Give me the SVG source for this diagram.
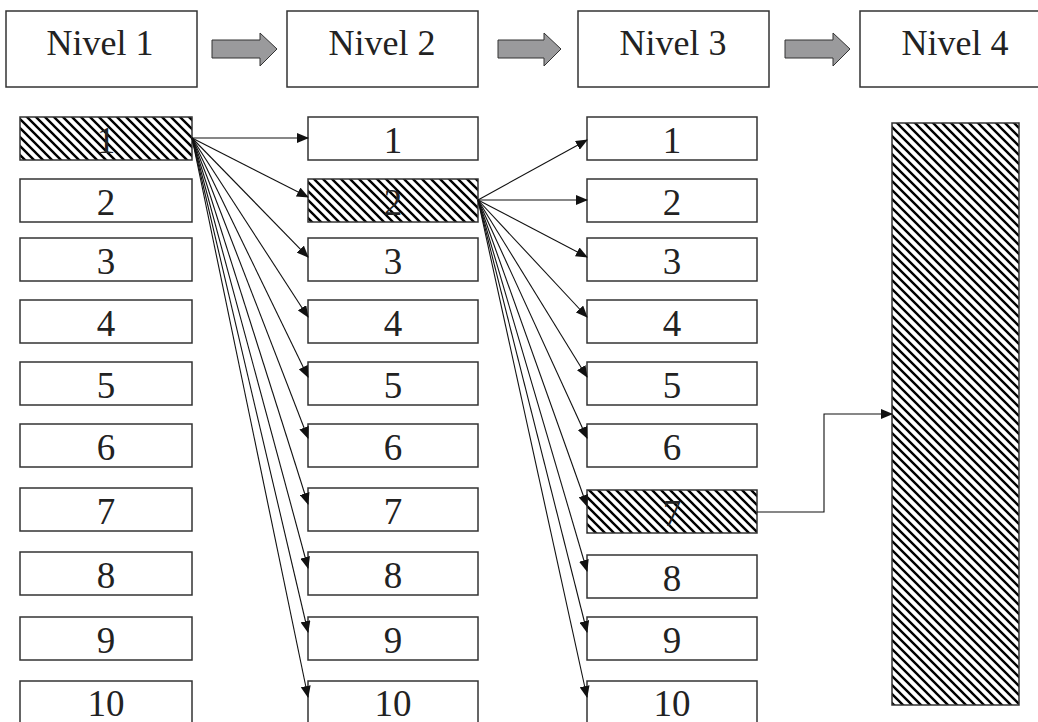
<svg xmlns="http://www.w3.org/2000/svg" width="1038" height="722" viewBox="0 0 1038 722">
<defs>
<pattern id="hatch" width="9" height="9" patternUnits="userSpaceOnUse">
<path d="M-2,-2 L11,11 M-2,7 L2,11 M7,-2 L11,2" stroke="#000" stroke-width="2.4"/>
</pattern>
<marker id="ah" markerWidth="12" markerHeight="10" refX="11" refY="5" orient="auto" markerUnits="userSpaceOnUse">
<path d="M0,0 L12,5 L0,10 Z" fill="#111"/>
</marker>
<style>
.box{fill:#fff;stroke:#333;stroke-width:1.5}
.hb{fill:url(#hatch);stroke:#333;stroke-width:1.5}
.t{fill:#222;text-anchor:middle}
.hd{font-size:36px}
.n{font-size:37px}
.c{fill:none;stroke:#111;stroke-width:1.1}
.ga{fill:#9a9a9c;stroke:#333;stroke-width:1}
</style>
</defs>
<rect width="1038" height="722" fill="#fff"/>

<g font-family="Liberation Serif, Times New Roman, Tinos, Noto Serif, DejaVu Serif, serif">
<g id="header">
<g id="nivel1"><rect class="box" x="6" y="11" width="191" height="76"/><text class="t hd" x="100" y="55">Nivel 1</text></g>
<g id="nivel2"><rect class="box" x="287" y="11" width="191" height="76"/><text class="t hd" x="382" y="55">Nivel 2</text></g>
<g id="nivel3"><rect class="box" x="578" y="11" width="191" height="76"/><text class="t hd" x="673" y="55">Nivel 3</text></g>
<g id="nivel4"><rect class="box" x="860" y="11" width="191" height="76"/><text class="t hd" x="955" y="55">Nivel 4</text></g>
<g id="flow1"><path class="ga" d="M212,40 H260 V33 L277,49 L260,66 V58 H212 Z"/></g>
<g id="flow2"><path class="ga" d="M498,40 H544 V33 L561,49 L544,66 V58 H498 Z"/></g>
<g id="flow3"><path class="ga" d="M785,40 H833 V33 L850,49 L833,66 V58 H785 Z"/></g>
</g>

<g id="col1">
<g id="c1-1"><rect class="hb" x="20" y="117" width="172" height="43"/><text class="t n" x="106" y="153">1</text></g>
<g id="c1-2"><rect class="box" x="20" y="179" width="172" height="43"/><text class="t n" x="106" y="215">2</text></g>
<g id="c1-3"><rect class="box" x="20" y="238" width="172" height="43"/><text class="t n" x="106" y="274">3</text></g>
<g id="c1-4"><rect class="box" x="20" y="300" width="172" height="43"/><text class="t n" x="106" y="336">4</text></g>
<g id="c1-5"><rect class="box" x="20" y="362" width="172" height="43"/><text class="t n" x="106" y="398">5</text></g>
<g id="c1-6"><rect class="box" x="20" y="424" width="172" height="43"/><text class="t n" x="106" y="460">6</text></g>
<g id="c1-7"><rect class="box" x="20" y="488" width="172" height="43"/><text class="t n" x="106" y="524">7</text></g>
<g id="c1-8"><rect class="box" x="20" y="552" width="172" height="43"/><text class="t n" x="106" y="588">8</text></g>
<g id="c1-9"><rect class="box" x="20" y="617" width="172" height="43"/><text class="t n" x="106" y="653">9</text></g>
<g id="c1-10"><rect class="box" x="20" y="681" width="172" height="43"/><text class="t n" x="106" y="716">10</text></g>
</g>

<g id="col2">
<g id="c2-1"><rect class="box" x="308" y="117" width="170" height="43"/><text class="t n" x="393" y="153">1</text></g>
<g id="c2-2"><rect class="hb" x="308" y="179" width="170" height="43"/><text class="t n" x="393" y="215">2</text></g>
<g id="c2-3"><rect class="box" x="308" y="238" width="170" height="43"/><text class="t n" x="393" y="274">3</text></g>
<g id="c2-4"><rect class="box" x="308" y="300" width="170" height="43"/><text class="t n" x="393" y="336">4</text></g>
<g id="c2-5"><rect class="box" x="308" y="362" width="170" height="43"/><text class="t n" x="393" y="398">5</text></g>
<g id="c2-6"><rect class="box" x="308" y="424" width="170" height="43"/><text class="t n" x="393" y="460">6</text></g>
<g id="c2-7"><rect class="box" x="308" y="488" width="170" height="43"/><text class="t n" x="393" y="524">7</text></g>
<g id="c2-8"><rect class="box" x="308" y="552" width="170" height="43"/><text class="t n" x="393" y="588">8</text></g>
<g id="c2-9"><rect class="box" x="308" y="617" width="170" height="43"/><text class="t n" x="393" y="653">9</text></g>
<g id="c2-10"><rect class="box" x="308" y="681" width="170" height="43"/><text class="t n" x="393" y="716">10</text></g>
</g>

<g id="col3">
<g id="c3-1"><rect class="box" x="587" y="117" width="170" height="43"/><text class="t n" x="672" y="153">1</text></g>
<g id="c3-2"><rect class="box" x="587" y="179" width="170" height="43"/><text class="t n" x="672" y="215">2</text></g>
<g id="c3-3"><rect class="box" x="587" y="238" width="170" height="43"/><text class="t n" x="672" y="274">3</text></g>
<g id="c3-4"><rect class="box" x="587" y="300" width="170" height="43"/><text class="t n" x="672" y="336">4</text></g>
<g id="c3-5"><rect class="box" x="587" y="362" width="170" height="43"/><text class="t n" x="672" y="398">5</text></g>
<g id="c3-6"><rect class="box" x="587" y="424" width="170" height="43"/><text class="t n" x="672" y="460">6</text></g>
<g id="c3-7"><rect class="hb" x="587" y="490" width="170" height="43"/><text class="t n" x="672" y="526">7</text></g>
<g id="c3-8"><rect class="box" x="587" y="555" width="170" height="43"/><text class="t n" x="672" y="591">8</text></g>
<g id="c3-9"><rect class="box" x="587" y="617" width="170" height="43"/><text class="t n" x="672" y="653">9</text></g>
<g id="c3-10"><rect class="box" x="587" y="681" width="170" height="43"/><text class="t n" x="672" y="716">10</text></g>
</g>
</g>

<g id="level4"><rect class="hb" x="892" y="123" width="127" height="582"/></g>

<g id="connectors">
<path class="c" marker-end="url(#ah)" d="M192,138 L308,138"/>
<path class="c" marker-end="url(#ah)" d="M192,138 L308,197"/>
<path class="c" marker-end="url(#ah)" d="M192,138 L308,257"/>
<path class="c" marker-end="url(#ah)" d="M192,138 L308,317"/>
<path class="c" marker-end="url(#ah)" d="M192,138 L308,377"/>
<path class="c" marker-end="url(#ah)" d="M192,138 L308,438"/>
<path class="c" marker-end="url(#ah)" d="M192,138 L308,504"/>
<path class="c" marker-end="url(#ah)" d="M192,138 L308,568"/>
<path class="c" marker-end="url(#ah)" d="M192,138 L308,632"/>
<path class="c" marker-end="url(#ah)" d="M192,138 L308,697"/>

<path class="c" marker-end="url(#ah)" d="M478,200 L587,140"/>
<path class="c" marker-end="url(#ah)" d="M478,200 L587,200"/>
<path class="c" marker-end="url(#ah)" d="M478,200 L587,257"/>
<path class="c" marker-end="url(#ah)" d="M478,200 L587,317"/>
<path class="c" marker-end="url(#ah)" d="M478,200 L587,377"/>
<path class="c" marker-end="url(#ah)" d="M478,200 L587,438"/>
<path class="c" marker-end="url(#ah)" d="M478,200 L587,506"/>
<path class="c" marker-end="url(#ah)" d="M478,200 L587,571"/>
<path class="c" marker-end="url(#ah)" d="M478,200 L587,632"/>
<path class="c" marker-end="url(#ah)" d="M478,200 L587,697"/>

<path class="c" marker-end="url(#ah)" d="M757,512 H824 V414 H892"/>
</g>
</svg>
